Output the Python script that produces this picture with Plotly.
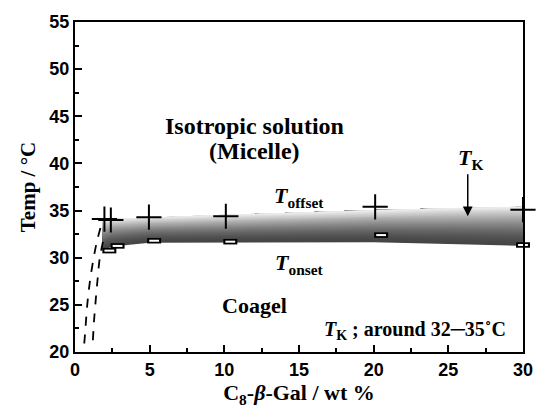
import plotly.graph_objects as go
import numpy as np

# T_offset (+ markers)
off_x = [1.97, 2.4, 4.95, 10.1, 20.1, 30.0]
off_y = [34.1, 34.0, 34.3, 34.4, 35.4, 35.1]
# T_onset (rectangle markers)
on_x = [2.3, 2.85, 5.3, 10.4, 20.5, 30.0]
on_y = [30.75, 31.25, 31.8, 31.7, 32.4, 31.35]
# gradient band boundaries
band_x = [1.85, 2.5, 5, 10, 15, 20, 25, 30]
band_top = [34.0, 34.1, 34.3, 34.55, 34.8, 35.05, 35.25, 35.4]
band_bot = [30.75, 31.2, 31.6, 31.6, 31.65, 31.65, 31.45, 31.25]
# dashed guide curves
dash1_x = [0.62, 0.7, 0.82, 1.0, 1.25, 1.48, 1.75]
dash1_y = [20.9, 22.5, 25.0, 27.5, 30.0, 31.8, 33.4]
dash2_x = [1.2, 1.26, 1.36, 1.5, 1.66, 1.82, 1.97]
dash2_y = [21.25, 23.0, 25.0, 27.5, 30.0, 31.3, 32.4]
# tick labels
x_ticks = [0, 5, 10, 15, 20, 25, 30]
y_ticks = [20, 25, 30, 35, 40, 45, 50, 55]

SERIF = "Liberation Serif"
SANS = "Liberation Sans"

fig = go.Figure()

N = 48
bx = np.array(band_x)
bt = np.array(band_top)
bb = np.array(band_bot)
for i in range(N):
    lo = bb + (bt - bb) * i / N
    f = (i + 0.5) / N
    g = int(70 + (240 - 70) * f ** 1.6)
    col = f"rgb({g},{g},{g})"
    fig.add_trace(go.Scatter(
        x=list(bx) + list(bx[::-1]), y=list(lo) + list(bt[::-1]),
        fill="toself", fillcolor=col, line=dict(width=0, color=col),
        mode="lines", hoverinfo="skip", showlegend=False))

for dx, dy in [(dash1_x, dash1_y), (dash2_x, dash2_y)]:
    fig.add_trace(go.Scatter(x=dx, y=dy, mode="lines",
                             line=dict(color="black", width=1.8, dash="dash", shape="spline"),
                             showlegend=False))

fig.add_trace(go.Scatter(x=off_x, y=off_y, mode="markers",
                         marker=dict(symbol="cross-thin", size=18, line=dict(color="black", width=2)),
                         cliponaxis=False, showlegend=False))
fig.add_trace(go.Scatter(x=on_x, y=on_y, mode="markers",
                         marker=dict(symbol="line-ew", size=10, line=dict(color="black", width=5.5)),
                         cliponaxis=False, showlegend=False))
fig.add_trace(go.Scatter(x=on_x, y=on_y, mode="markers",
                         marker=dict(symbol="line-ew", size=7, line=dict(color="white", width=2)),
                         cliponaxis=False, showlegend=False))

def ann(x, y, text, size, **kw):
    fig.add_annotation(x=x, y=y, text=text, showarrow=False,
                       font=dict(family=SERIF, size=size, color="black"), **kw)

ann(12.0, 44.0, "<b>Isotropic solution</b>", 24)
ann(12.0, 41.3, "<b>(Micelle)</b>", 24)
ann(15.0, 36.4, "<b><i>T</i></b><b><sub>offset</sub></b>", 22)
ann(15.0, 29.3, "<b><i>T</i></b><b><sub>onset</sub></b>", 22)
ann(12.0, 24.9, "<b>Coagel</b>", 22)
ann(26.5, 40.5, "<b><i>T</i></b><b><sub>K</sub></b>", 22)
ann(22.8, 22.3, "<b><i>T</i></b><b><sub>K</sub> ; around 32─35˚C</b>", 20)

fig.add_annotation(x=26.3, y=34.4, ax=26.3, ay=39.0, axref="x", ayref="y",
                   xref="x", yref="y", text="", showarrow=True,
                   arrowhead=2, arrowsize=1.3, arrowwidth=1.5, arrowcolor="black")

axis_common = dict(showgrid=False, zeroline=False, showline=True, linecolor="black",
                   linewidth=2, mirror=True, ticks="inside", ticklen=7, tickwidth=1.5,
                   tickcolor="black",
                   tickfont=dict(family=SANS, size=18, color="black", weight="bold"))

fig.update_xaxes(range=[0, 30], tickvals=x_ticks, ticktext=[f"<b>{v}</b>" for v in x_ticks],
                 minor=dict(ticks="inside", dtick=2.5, ticklen=4, tickwidth=1.5, tickcolor="black"),
                 title=dict(text="<b>C<sub>8</sub>-<i>β</i>-Gal / wt %</b>",
                            font=dict(family=SERIF, size=22, color="black"), standoff=6),
                 **axis_common)
fig.update_yaxes(range=[20, 55], tickvals=y_ticks, ticktext=[f"<b>{v}</b>" for v in y_ticks],
                 minor=dict(ticks="inside", dtick=2.5, ticklen=4, tickwidth=1.5, tickcolor="black"),
                 title=dict(text="<b>Temp / °C</b>",
                            font=dict(family=SERIF, size=21, color="black"), standoff=8),
                 **axis_common)

fig.update_layout(width=545, height=413, margin=dict(l=75, r=12, t=21, b=56),
                  plot_bgcolor="white", paper_bgcolor="white", showlegend=False)

fig.write_html("out.html")
